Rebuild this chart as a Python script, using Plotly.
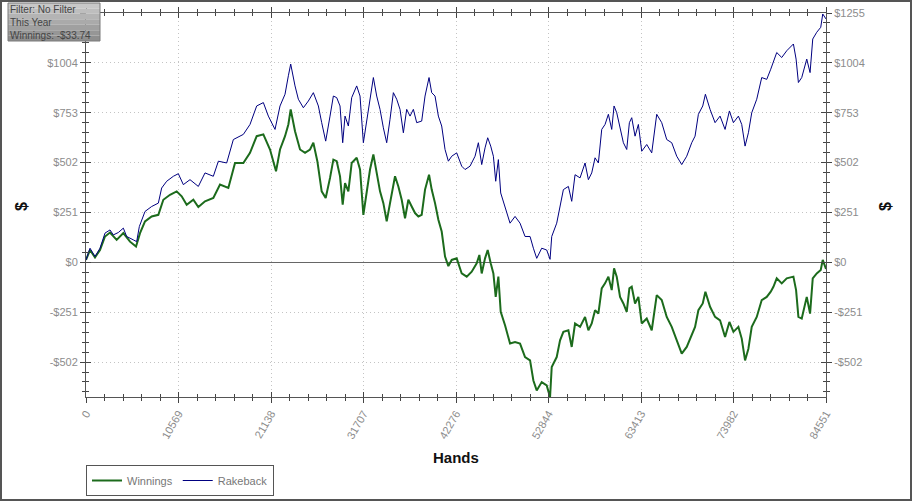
import plotly.graph_objects as go

# hands played / running totals ($)
rakeback_hands = [0, 457, 1028, 1600, 2171, 2742, 3123, 3695, 4266, 4647, 5409, 5790, 6094, 6742, 7504,
                  8266, 8646, 9218, 9980, 10551, 11122, 11884, 12836, 13598, 14550, 15122, 16074, 16836,
                  17978, 18740, 19502, 20264, 20835, 21597, 22168, 22740, 23121, 23387, 23882, 24263,
                  24835, 25406, 25977, 26549, 26930, 27387,
                  27882, 28263, 28644, 29025, 29329, 29596, 29977, 30358, 30929, 31310, 31691, 32072,
                  32453, 32834, 33214, 33595, 33976, 34357, 34738, 35119, 35500, 35881, 36262, 36643,
                  37023, 37404, 37785, 38357, 38738, 39195, 39499, 39880, 40261, 40642, 41023, 41404,
                  41785, 42356, 42927, 43308, 43880, 44451, 44832, 45213, 45594, 45898, 46241, 46546,
                  46813, 47117, 47384, 47879, 48450, 49022, 49593, 50165, 50736, 51117, 51498, 52069,
                  52640, 53021, 53212, 53783, 54164, 54545, 55116, 55497, 55878,
                  56449, 57021, 57402, 57783, 58163, 58544, 58925, 59306, 59687, 60068, 60335, 60639,
                  61020, 61401, 61782, 62087, 62353, 62734, 63115, 63496, 64067, 64639, 65210, 65781,
                  66353, 66924, 67495, 68067, 68638, 69210, 69590, 69971, 70467, 70771, 71304, 71876,
                  72447, 73019, 73514, 73971, 74542, 74923, 75304, 75685, 76066, 76637, 77208, 77780,
                  78237, 78542, 78922, 79494, 80065, 80827, 81132, 81398, 81779, 82351, 82731, 83036,
                  83493, 83950, 84179, 84551]
rakeback = [12, 71, 29, 71, 147, 163, 138, 150, 172, 130, 113, 104, 180, 256, 281, 298, 374, 408, 433,
            446, 391, 416, 382, 450, 433, 509, 500, 618, 644, 694, 787, 804, 736, 669, 787, 846, 939,
            998, 888, 821, 778, 812, 854, 787, 703, 610,
            736, 837, 829, 787, 602, 736, 686, 829, 888, 837, 602, 720, 829, 930, 837, 770, 677, 602,
            720, 854, 821, 770, 652, 770, 736, 770, 703, 711, 837, 930, 854, 837, 736, 686, 568, 509,
            534, 551, 484, 467, 484, 534, 602, 492, 576, 627, 585, 534, 408, 517, 349, 281, 197, 231,
            197, 130, 130, 71, 20, 71, 62, 15, 130, 197, 281, 366, 382, 307, 441,
            425, 500, 416, 450, 526, 500, 669, 694, 745, 669, 787, 753, 669, 602, 568, 703, 728, 635,
            694, 559, 593, 551, 745, 703, 618, 602, 534, 492, 534, 602, 635, 745, 787, 846, 770, 703,
            736, 669, 762, 703, 736, 694, 585, 652, 753, 821, 930, 921, 972, 1006, 1056, 1031, 1065,
            1099, 1023, 905, 930, 1023, 955, 1124, 1158, 1183, 1250, 1225]

winnings_hands = [0, 457, 1028, 1600, 2171, 2742, 3504, 4266, 5028, 5714, 6171, 6742, 7504, 8266, 8837,
                  9599, 10360, 10932, 11503, 12265, 12836, 13598, 14550, 15312, 16264, 17026, 17978,
                  18740, 19502, 20264, 21026, 21711, 22168, 22740, 23121, 23387, 23882, 24454, 25025,
                  25596, 25977, 26434, 26930, 27387,
                  27882, 28263, 28644, 29025, 29329, 29596, 29977, 30358, 30929, 31310, 31691, 32072,
                  32453, 32834, 33214, 33595, 33976, 34357, 34738, 35309, 35690, 36071, 36452, 36833,
                  37214, 37595, 37976, 38357, 38738, 39195, 39499, 39880, 40261, 40642, 41023, 41404,
                  41785, 42356, 42927, 43499, 44070, 44641, 44946, 45213, 45594, 45898, 46241, 46546,
                  46813, 47117, 47384, 47879, 48450, 49022, 49593, 50165, 50736, 51117, 51498, 52069,
                  52640, 53021, 53212, 53783, 54164, 54545, 55116, 55497, 55878,
                  56449, 57021, 57402, 57783, 58163, 58544, 58925, 59306, 59687, 60068, 60335, 60639,
                  61020, 61401, 61782, 62087, 62353, 62734, 63115, 63496, 64067, 64639, 65210, 65781,
                  66353, 66924, 67495, 68067, 68638, 69210, 69590, 69971, 70467, 70771, 71304, 71876,
                  72447, 73019, 73514, 73971, 74542, 74923, 75304, 75685, 76066, 76637, 77208, 77780,
                  78237, 78542, 78922, 79494, 80065, 80827, 81132, 81398, 81779, 82351, 82731, 83036,
                  83493, 83950, 84179, 84551]
winnings = [12, 62, 25, 62, 130, 150, 113, 147, 104, 79, 147, 206, 231, 239, 315, 340, 357, 332, 290,
            315, 278, 307, 324, 391, 374, 500, 500, 551, 635, 644, 568, 458, 568, 635, 694, 770, 660,
            568, 551, 568, 602, 509, 357, 324,
            425, 517, 509, 433, 290, 399, 357, 500, 526, 467, 239, 366, 467, 543, 450, 357, 298, 206,
            298, 433, 382, 315, 222, 315, 281, 248, 231, 239, 366, 441, 366, 298, 214, 155, 29, -19,
            12, 20, -56, -72, -47, -5, 37, -56, 20, 62, -5, -56, -174, -72, -249, -317, -409, -401,
            -409, -477, -494, -595, -645, -603, -620, -679, -527, -477, -393, -350, -342, -426, -308,
            -325, -275, -342, -308, -241, -258, -131, -106, -72, -140, -30, -72, -174, -207, -249,
            -131, -123, -207, -174, -308, -283, -342, -165, -190, -275, -325, -393, -460, -426, -359,
            -325, -241, -207, -148, -224, -275, -292, -376, -300, -350, -325, -384, -494, -435, -325,
            -275, -190, -174, -148, -123, -81, -106, -81, -72, -140, -275, -283, -174, -258, -81, -56,
            -39, 12, -33.74]

x_ticks = [0, 10569, 21138, 31707, 42276, 52844, 63413, 73982, 84551]
y_ticks = [-502, -251, 0, 251, 502, 753, 1004, 1255]
info_lines = ["Filter: No Filter", "This Year", "Winnings: -$33.74"]


def money(v):
    return ("-$%d" % -v) if v < 0 else ("$%d" % v)


y_labels = [money(v) for v in y_ticks]
# the info box sits over the top-left label, so leave that one blank
y_labels_left = [t if v != y_ticks[-1] else "" for v, t in zip(y_ticks, y_labels)]
x_range = [0, 84551]
y_range = [-678, 1255]

W, H = 912, 501
ML, MR, MT, MB = 86, 86, 13, 104
PW, PH = W - ML - MR, H - MT - MB


def px(p):  # figure pixel -> paper x
    return (p - ML) / PW


def py(p):  # figure pixel -> paper y
    return (H - MB - p) / PH


fig = go.Figure()
fig.add_trace(go.Scatter(x=winnings_hands, y=winnings, mode="lines", name="Winnings",
                         line=dict(color="#1c6b1c", width=2)))
fig.add_trace(go.Scatter(x=rakeback_hands, y=rakeback, mode="lines", name="Rakeback",
                         line=dict(color="#000080", width=1)))
# dummy traces so the extra axes (right labels, inner ticks) get drawn
fig.add_trace(go.Scatter(x=[0], y=[0], yaxis="y2", mode="markers", marker=dict(opacity=0),
                         showlegend=False, hoverinfo="skip"))
fig.add_trace(go.Scatter(x=[0], y=[0], xaxis="x2", yaxis="y3", mode="markers",
                         marker=dict(opacity=0), showlegend=False, hoverinfo="skip"))

tick_font = dict(family="Liberation Sans, Arial", size=11, color="#8c8c8c")
axcol = "#555555"
grid = dict(showgrid=True, gridcolor="#c4c4c4", griddash="1px,3px", gridwidth=1)

fig.update_layout(
    width=W, height=H,
    margin=dict(l=ML, r=MR, t=MT, b=MB),
    paper_bgcolor="white", plot_bgcolor="white",
    font=dict(family="Liberation Sans, Arial", size=11, color="#666666"),
    xaxis=dict(range=x_range, tickmode="array", tickvals=x_ticks, ticktext=[str(v) for v in x_ticks],
               tickangle=-60, tickfont=tick_font, ticks="outside", ticklen=5, tickcolor="#444",
               showline=True, linecolor=axcol, linewidth=1, mirror="ticks", zeroline=False,
               automargin=False,
               minor=dict(dtick=84551 / 40, tick0=0, ticks="outside", ticklen=3, tickcolor="#444",
                          showgrid=False), **grid),
    xaxis2=dict(range=x_range, overlaying="x", tickmode="array", tickvals=x_ticks,
                showticklabels=False, ticks="inside", ticklen=5, tickcolor="#444", mirror="ticks",
                showline=False, showgrid=False, zeroline=False, automargin=False,
                minor=dict(dtick=84551 / 40, tick0=0, ticks="inside", ticklen=3, tickcolor="#444",
                           showgrid=False)),
    yaxis=dict(range=y_range, tickmode="array", tickvals=y_ticks, ticktext=y_labels_left,
               tickfont=tick_font, ticks="outside", ticklen=5, tickcolor="#444",
               showline=True, linecolor=axcol, linewidth=1, mirror=True, automargin=False,
               zeroline=True, zerolinecolor="#666666", zerolinewidth=1,
               minor=dict(dtick=50.2, tick0=0, ticks="outside", ticklen=3, tickcolor="#444",
                          showgrid=False), **grid),
    yaxis2=dict(range=y_range, overlaying="y", side="right", tickmode="array", tickvals=y_ticks,
                ticktext=y_labels, tickfont=tick_font, ticks="outside", ticklen=5, tickcolor="#444",
                showline=True, linecolor=axcol, linewidth=1, showgrid=False, zeroline=False,
                automargin=False,
                minor=dict(dtick=50.2, tick0=0, ticks="outside", ticklen=3, tickcolor="#444",
                           showgrid=False)),
    yaxis3=dict(range=y_range, overlaying="y", side="left", tickmode="array", tickvals=y_ticks,
                showticklabels=False, ticks="inside", ticklen=5, tickcolor="#444", mirror="ticks",
                showline=False, showgrid=False, zeroline=False, automargin=False,
                minor=dict(dtick=50.2, tick0=0, ticks="inside", ticklen=3, tickcolor="#444",
                           showgrid=False)),
    legend=dict(orientation="h", xref="container", yref="container",
                x=ML / W, xanchor="left", y=1 - 480.5 / H, yanchor="middle",
                bordercolor="#555555", borderwidth=1, bgcolor="white",
                font=dict(size=11, color="#777777"), itemwidth=30, tracegroupgap=0),
    showlegend=True,
)

# axis titles
fig.add_annotation(text="<b>Hands</b>", xref="paper", yref="paper", x=0.5, y=py(457),
                   showarrow=False, font=dict(size=15, color="#111111"),
                   xanchor="center", yanchor="middle")
for xpix in (22, 886):
    fig.add_annotation(text="<b>$</b>", xref="paper", yref="paper", x=px(xpix), y=py(207),
                       textangle=-90, showarrow=False, font=dict(size=16, color="#111111"),
                       xanchor="center", yanchor="middle")

# filter info box in the corner: grey box shaded light to dark, three lines of text
shades = ["#c8c8c8", "#bebebe", "#b4b4b4", "#aaaaaa", "#a0a0a0", "#969696", "#8e8e8e"]
top, bottom = 3, 41
step = (bottom - top) / len(shades)
for i, c in enumerate(shades):
    fig.add_shape(type="rect", xref="paper", yref="paper", x0=px(8), x1=px(100),
                  y0=py(top + (i + 1) * step), y1=py(top + i * step),
                  fillcolor=c, line=dict(width=0), layer="above")
fig.add_shape(type="rect", xref="paper", yref="paper", x0=px(8), x1=px(100), y0=py(bottom), y1=py(top),
              line=dict(color="#7a7a7a", width=1), layer="above")
fig.add_annotation(text="<br>".join(info_lines), xref="paper", yref="paper",
                   x=px(9), y=py((top + bottom) / 2), xanchor="left", yanchor="middle",
                   align="left", showarrow=False, borderpad=0,
                   font=dict(size=10, color="#454545"))

# outer frame round the whole picture
fig.add_shape(type="rect", xref="paper", yref="paper", x0=px(1), x1=px(W - 1),
              y0=py(H - 1), y1=py(1), line=dict(color="#555555", width=2))

fig.write_html("out.html", config={"displayModeBar": False},
               post_script="document.body.style.margin='0';")
